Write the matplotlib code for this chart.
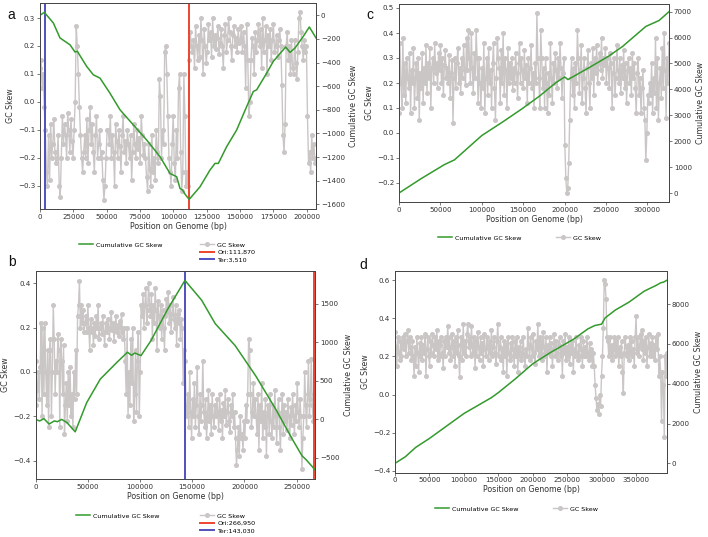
import numpy as np
import matplotlib
matplotlib.use("Agg")
import matplotlib.pyplot as plt

# ---------------- data ----------------
# Panel a
a_len = 207000
a_skew = [0.12, 0.15, 0.05, 0.1,
          -0.02, -0.1, -0.25, -0.3,
          -0.12, -0.28, -0.08, -0.2, -0.15, -0.06, -0.18, -0.22, -0.2, -0.12,
          -0.3, -0.34, -0.2,
          -0.05, -0.15, -0.08, -0.12, -0.2, -0.04, -0.1, -0.18, -0.06, -0.14, -0.2, -0.1,
          0.0, 0.27, 0.2, 0.1,
          -0.02, -0.12, -0.2, -0.25, -0.18, -0.12, -0.2, -0.06, -0.22, -0.1, -0.02,
          -0.15, -0.08, -0.18, -0.25, -0.12, -0.05, -0.2, -0.15, -0.1, -0.2,
          -0.18, -0.28, -0.35, -0.3, -0.2, -0.1,
          -0.1, -0.15, -0.05, -0.2, -0.12, -0.18, -0.3, -0.08, -0.14, -0.2, -0.1,
          -0.16, -0.25, -0.12, -0.05, -0.18, -0.14, -0.22, -0.1, -0.15, -0.2, -0.12,
          -0.28, -0.18, -0.08, -0.15, -0.2, -0.1, -0.17, -0.13, -0.22, -0.05, -0.12,
          -0.19, -0.15,
          -0.2, -0.27, -0.32, -0.15, -0.24, -0.3, -0.12, -0.25, -0.2, -0.28, -0.1, -0.18, -0.22,
          0.08, 0.02, -0.2, -0.1, -0.15,
          0.18, 0.2, 0.1, -0.05, -0.2,
          -0.25, -0.3, -0.15, -0.05, -0.22, -0.28, -0.1, -0.2, 0.05, 0.1, -0.18, -0.32,
          -0.25, 0.1, -0.05, -0.3, -0.25, -0.3,
          0.15, 0.25, 0.2, 0.18, 0.22, 0.12, 0.27, 0.2, 0.15, 0.24, 0.16, 0.3, 0.22, 0.1,
          0.26, 0.2, 0.14, 0.18, 0.28, 0.22, 0.25, 0.16, 0.3, 0.2, 0.24, 0.19, 0.23, 0.27,
          0.17, 0.21, 0.26, 0.2, 0.12, 0.24, 0.28, 0.18, 0.22, 0.3, 0.25, 0.2, 0.15, 0.24,
          0.27, 0.2, 0.23, 0.18, 0.26, 0.21,
          0.22, 0.27, 0.18, 0.25, 0.2, 0.05, 0.28, 0.15, -0.05, 0.0, 0.15, 0.23, 0.2, 0.1,
          0.25, 0.18, 0.22, 0.28, 0.2,
          0.26, 0.12, 0.3, 0.18, 0.22, 0.27, 0.1, 0.24, 0.2, 0.26, 0.15, 0.22, 0.28, 0.18,
          0.2, 0.24, 0.16, 0.22, 0.26, 0.2,
          0.06, -0.12, -0.18, -0.08, 0.2, 0.25, 0.15, 0.2, 0.1, 0.22, 0.12,
          0.1, 0.22, 0.14, 0.08, 0.18, 0.3, 0.32, 0.25, 0.2, 0.15, 0.22, 0.18, 0.2,
          -0.05, -0.22, -0.18, -0.25, -0.12, -0.2, -0.15, -0.22, -0.2]
a_cum_x = [0, 3250, 10000, 15000, 22500, 26250, 28000, 35000, 40000, 45000,
           52500, 60000, 70000, 80000, 90000, 97500, 102500, 105000, 107000,
           108750, 111870, 120000, 127500, 131250, 133750, 140000, 147500,
           155000, 160000, 162500, 170000, 175000, 182500, 184250, 187500,
           191250, 197500, 202000, 207000]
a_cum_y = [0, 25, -65, -192, -250, -311, -305, -433, -504, -532,
           -660, -800, -928, -1056, -1197, -1339, -1367, -1466, -1480,
           -1514, -1559, -1452, -1310, -1254, -1254, -1112, -971,
           -773, -645, -631, -490, -390, -291, -269, -314,
           -277, -178, -99, -192]
a_ori, a_ter = 111870, 3510

# Panel b
b_len = 267500
b_skew = [0.05, -0.15, -0.08, 0.0, -0.12, 0.02,
          0.22, -0.2, 0.2, -0.1, 0.22, 0.0, -0.15, 0.1,
          -0.25, 0.1, 0.15, -0.2, 0.0, 0.3, 0.15, -0.1, 0.05,
          0.0, 0.17, 0.1, -0.25, 0.15, 0.05, -0.1, 0.12,
          -0.28, -0.15, -0.05, -0.22, 0.0, -0.15, 0.02, -0.2, -0.1, -0.25, 0.0, -0.12,
          0.1, -0.1, 0.25, 0.3, 0.41, 0.2, 0.3, 0.22, 0.28, 0.18,
          0.22, 0.25, 0.18, 0.3, 0.2, 0.1, 0.24, 0.18, 0.2, 0.12, 0.22, 0.16, 0.25,
          0.2, 0.3, 0.15, 0.2, 0.22, 0.17, 0.25, 0.18, 0.12, 0.22, 0.2, 0.18, 0.24,
          0.15, 0.2, 0.27, 0.19, 0.22, 0.14, 0.2, 0.25, 0.18, 0.21, 0.16, 0.23, 0.2,
          0.26, 0.18, 0.15, 0.2,
          0.05, -0.1, 0.2, -0.2, 0.0, -0.15, 0.15, -0.05, 0.2, -0.22, -0.1, 0.1,
          -0.18, 0.05, 0.18, -0.2, 0.0,
          0.3, 0.25, 0.35, 0.2, 0.3, 0.38, 0.22, 0.28, 0.4, 0.3, 0.25, 0.35, 0.15,
          0.3, 0.22, 0.38, 0.28, 0.1, 0.32, 0.25, 0.2, 0.3, 0.15, 0.28, 0.2, 0.1,
          0.25, 0.33, 0.27, 0.36, 0.22, 0.3, 0.18, 0.26, 0.34, 0.24, 0.2, 0.3, 0.12,
          0.26, 0.22, 0.28, 0.15, 0.24, 0.2,
          -0.05, 0.1, 0.05,
          -0.15, -0.2, -0.1, -0.25, 0.0, -0.18, -0.3, -0.12, -0.2, -0.05, -0.25,
          -0.15, 0.02, -0.2, -0.28, -0.1, -0.22, -0.15, 0.05, -0.18, -0.25, -0.12,
          -0.3, -0.2, -0.08, -0.22, -0.15, -0.28, -0.1, -0.2, -0.25, -0.15, -0.2,
          -0.12, -0.18, -0.26, -0.1, -0.22, -0.17, -0.3, -0.14, -0.2, -0.08, -0.24,
          -0.18, -0.12, -0.22, -0.27, -0.15, -0.2, -0.1, -0.25, -0.18,
          -0.3, -0.42, -0.35, -0.25, -0.38, -0.2, -0.3, -0.28, -0.35, -0.22, -0.3,
          -0.15, -0.22, -0.1, 0.15, 0.1, -0.1, -0.25, -0.18, -0.05, -0.2, -0.12,
          -0.2, -0.28, -0.1, -0.35, -0.15, -0.22, -0.05, -0.3, -0.18, -0.25, -0.12,
          -0.38, -0.2, -0.15, -0.28, -0.1, -0.22, -0.3, -0.15, -0.25, -0.08, -0.2,
          -0.32, -0.18, -0.12, -0.25, -0.35, -0.2, -0.1, -0.28, -0.15, -0.22, -0.18,
          -0.26, -0.12, -0.2, -0.3, -0.16, -0.24, -0.1, -0.2, -0.28, -0.15, -0.22,
          -0.05, -0.18, -0.25, -0.12, -0.2, -0.44, -0.3, -0.2, 0.0, -0.15, -0.25,
          -0.1, 0.05, -0.2, -0.12, 0.06, -0.15, -0.22, -0.1, 0.05]
b_cum_x = [0, 4000, 8000, 13000, 18000, 21000, 25000, 30000, 38000, 49000,
           62000, 78000, 88000, 92000, 95000, 101000, 110600, 126800, 143030,
           159000, 172000, 191000, 210700, 230000, 246000, 255000, 259000, 267500]
b_cum_y = [0, -20, 10, -60, -20, -30, 0, -40, -161, 217,
           522, 740, 870, 830, 860, 826, 1022, 1435, 1800,
           1544, 1240, 957, 565, 130, -261, -470, -522, -652]
b_ori, b_ter = 266950, 143030

# Panel c
c_len = 326000
c_skew = [0.08, 0.36, 0.2, 0.1, 0.38, 0.15, 0.28, 0.12, 0.3, 0.22,
          0.18, 0.32, 0.08, 0.25, 0.2, 0.34, 0.1, 0.22, 0.28, 0.14,
          0.3, 0.05, 0.24, 0.18, 0.32, 0.12, 0.26, 0.2, 0.35, 0.16,
          0.28, 0.22, 0.34, 0.1, 0.26, 0.3, 0.2, 0.36, 0.24, 0.28,
          0.18, 0.32, 0.25, 0.35, 0.2, 0.3, 0.15, 0.27, 0.33, 0.22,
          0.26, 0.2, 0.31, 0.14, 0.24, 0.29, 0.04, 0.22, 0.3, 0.18,
          0.28, 0.34, 0.2, 0.26, 0.16, 0.3, 0.22, 0.35, 0.25, 0.19,
          0.38, 0.25, 0.41, 0.3, 0.2, 0.4, 0.26, 0.16, 0.32, 0.22,
          0.41, 0.3, 0.12, 0.3, 0.2, 0.1, 0.26, 0.18, 0.36, 0.08,
          0.22, 0.3, 0.15, 0.34, 0.2, 0.25, 0.1, 0.28, 0.36, 0.18,
          0.05, 0.22, 0.38, 0.3, 0.26, 0.12, 0.33, 0.2, 0.4, 0.15,
          0.3, 0.25, 0.1, 0.34, 0.2, 0.28, 0.22, 0.3, 0.17, 0.26,
          0.2, 0.32, 0.24, 0.14, 0.28, 0.36, 0.2, 0.3, 0.25, 0.18,
          0.33, 0.22, 0.27, 0.12, 0.3, 0.2, 0.26, 0.35, 0.18, 0.24,
          0.1, 0.28, 0.2, 0.48, 0.3, 0.22, 0.1, 0.41, 0.3, 0.18,
          0.26, 0.1, 0.3, 0.2, 0.08, 0.24, 0.15, 0.36, 0.22, 0.12,
          0.28, 0.2, 0.32, 0.25, 0.18, 0.3, 0.22, 0.36, 0.26, 0.14,
          0.24, 0.3,
          -0.05, -0.18, -0.24, -0.22, -0.12, 0.05,
          0.22, 0.3, 0.15, 0.26, 0.1, 0.28, 0.2, 0.41, 0.3, 0.16,
          0.25, 0.35, 0.12, 0.22, 0.3, 0.18, 0.08, 0.26, 0.33, 0.2,
          0.1, 0.28, 0.22, 0.34, 0.15, 0.3, 0.24, 0.35, 0.2, 0.28,
          0.32, 0.25, 0.38, 0.22, 0.3, 0.27, 0.34, 0.2, 0.3, 0.26,
          0.18, 0.32, 0.28, 0.1, 0.24, 0.3, 0.15, 0.22, 0.35, 0.25,
          0.2, 0.3, 0.16, 0.27, 0.22, 0.33, 0.18, 0.28, 0.12, 0.25,
          0.3, 0.2, 0.26, 0.15, 0.32, 0.22, 0.28, 0.18, 0.08, 0.24,
          0.3, 0.15, 0.22, 0.08, 0.18, 0.25, 0.1,
          0.05, -0.11, 0.0, 0.15,
          0.12, 0.2, 0.15, 0.28, 0.08, 0.22, 0.16, 0.38, 0.1, 0.3, 0.05,
          0.2, 0.26, 0.14, 0.34, 0.18, 0.4, 0.25, 0.06, 0.3, 0.2, 0.36]
c_cum_x = [0, 27000, 55000, 67000, 100000, 125000, 148000, 170000, 189000,
           200000, 204000, 229000, 253000, 270000, 298000, 314000, 326000]
c_cum_y = [0, 560, 1100, 1280, 2220, 2740, 3240, 3750, 4250,
           4480, 4380, 4830, 5280, 5660, 6430, 6660, 7000]

# Panel d
d_len = 395000
d_skew = [0.33, 0.25, 0.15, 0.3, 0.22, 0.18, 0.28, 0.2, 0.26, 0.3,
          0.24, 0.32, 0.2, 0.28, 0.34, 0.22, 0.3, 0.25, 0.18, 0.28,
          0.2, 0.1, 0.25, 0.15, 0.3, 0.22, 0.12, 0.27, 0.2, 0.3,
          0.18, 0.26, 0.22, 0.32, 0.1, 0.24, 0.3, 0.2, 0.15, 0.28,
          0.22, 0.32, 0.26, 0.2, 0.3, 0.24, 0.34, 0.18, 0.28, 0.2,
          0.26, 0.3, 0.22, 0.14, 0.28, 0.2, 0.3, 0.25, 0.36, 0.22,
          0.3, 0.18, 0.25, 0.32, 0.2, 0.28, 0.15, 0.3, 0.22, 0.34,
          0.2, 0.09, 0.26, 0.3, 0.18, 0.37, 0.22, 0.28, 0.2, 0.32,
          0.37, 0.25, 0.3, 0.2, 0.36, 0.26, 0.22, 0.3, 0.14, 0.28,
          0.2, 0.33, 0.25, 0.18, 0.3, 0.22, 0.27, 0.15, 0.32, 0.24,
          0.2, 0.3, 0.26, 0.18, 0.28, 0.22, 0.34, 0.2, 0.25, 0.3,
          0.22, 0.16, 0.28, 0.37, 0.2, 0.25, 0.3, 0.18, 0.24, 0.12,
          0.28, 0.2, 0.26, 0.1, 0.3, 0.22, 0.18, 0.27, 0.2, 0.3,
          0.24, 0.15, 0.28, 0.2, 0.3, 0.12, 0.25, 0.2, 0.28, 0.18,
          0.22, 0.3, 0.2, 0.15, 0.24, 0.2, 0.35, 0.26, 0.18, 0.3,
          0.25, 0.2, 0.32, 0.22, 0.16, 0.28, 0.24, 0.37, 0.2, 0.3,
          0.22, 0.28, 0.18, 0.33, 0.25, 0.2, 0.3, 0.12, 0.26, 0.22,
          0.3, 0.2, 0.27, 0.15, 0.24, 0.32, 0.2, 0.28, 0.22, 0.18,
          0.26, 0.3, 0.2, 0.24, 0.1, 0.28, 0.22, 0.32, 0.18, 0.25,
          0.2, 0.3, 0.16, 0.26, 0.22, 0.28, 0.12, 0.24, 0.2, 0.3,
          0.22, 0.18, 0.26, 0.2, 0.3, 0.24, 0.15, 0.28, 0.2,
          0.25, 0.2, 0.3, 0.22, 0.18, 0.27, 0.2, 0.24, 0.15, 0.22,
          0.15, 0.05, -0.02, -0.08, -0.05, -0.1, 0.0, -0.06, 0.1,
          0.2, 0.35, 0.6, 0.58, 0.5, 0.3,
          0.28, 0.2, 0.3, 0.22, 0.26, 0.18, 0.24, 0.3, 0.2, 0.28,
          0.22, 0.3, 0.15, 0.25, 0.2, 0.28, 0.12, 0.01, 0.22, 0.3,
          0.25, 0.2, 0.26, 0.18, 0.3, 0.22, 0.28, 0.2, 0.24, 0.15,
          0.3, 0.41, 0.22, 0.3, 0.2, 0.26, 0.32, 0.24, 0.34, 0.18,
          0.28, 0.22, 0.3, 0.15, 0.25, 0.32, 0.2, 0.27, 0.22, 0.3,
          0.2, 0.26, 0.18, 0.3, 0.24, 0.32, 0.1, 0.2, 0.12, -0.14,
          0.12, 0.05, -0.22, 0.2, 0.1, 0.22]
d_cum_x = [0, 15000, 30000, 50000, 100000, 140000, 150000, 175000, 200000,
           225000, 240000, 260000, 280000, 290000, 300000, 305000, 320000,
           340000, 362000, 380000, 386000, 390000, 395000]
d_cum_y = [0, 330, 800, 1250, 2500, 3300, 3550, 4250, 5000,
           5550, 5850, 6250, 6750, 6920, 6990, 7300, 7700,
           8100, 8650, 8950, 9070, 9100, 9200]

# ---------------- style ----------------
GREEN = "#339a2c"
GRAY = "#cbc6c6"
RED = "#ee4430"
BLUE = "#5050c0"
W, H = 708, 537
FS = 5.7
TFS = 5.1
LFS = 4.6

plt.rcParams.update({
    "font.family": ["DejaVu Sans"],
    "axes.edgecolor": "#444444",
    "axes.linewidth": 0.6,
    "xtick.major.size": 2.0,
    "ytick.major.size": 2.0,
    "xtick.major.width": 0.5,
    "ytick.major.width": 0.5,
    "xtick.major.pad": 1.5,
    "ytick.major.pad": 1.5,
    "xtick.color": "#444444",
    "ytick.color": "#444444",
    "xtick.labelcolor": "#333333",
    "ytick.labelcolor": "#333333",
})

fig = plt.figure(figsize=(W / 100, H / 100), dpi=100)


def rect(l, t, r, b):
    return [l / W, 1 - b / H, (r - l) / W, (b - t) / H]


def panel(box, length, skew, cx, cy, ylim_l, ylim_r, leg1, leg2, ori=None, ter=None):
    ax = fig.add_axes(rect(*box))
    xs = np.linspace(0, length, len(skew))
    h_gc, = ax.plot(xs, skew, color=GRAY, lw=1.0, marker="o", ms=2.6,
                    mec=GRAY, mfc=GRAY, label="GC Skew")
    handles = [h_gc]
    if ori is not None:
        handles.append(ax.axvline(ori, color=RED, lw=1.4, label=f"Ori:{ori:,}"))
        handles.append(ax.axvline(ter, color=BLUE, lw=1.4, label=f"Ter:{ter:,}"))
    ax.set_xlim(0, length)
    ax.set_ylim(*ylim_l)
    ax.set_xlabel("Position on Genome (bp)", fontsize=FS, color="#333333", labelpad=1.5)
    ax.set_ylabel("GC Skew", fontsize=FS, color="#333333", labelpad=2)
    ax.tick_params(labelsize=TFS)
    ax2 = ax.twinx()
    h_c, = ax2.plot(cx, cy, color=GREEN, lw=1.1, label="Cumulative GC Skew")
    ax2.set_ylim(*ylim_r)
    ax2.set_ylabel("Cumulative GC Skew", fontsize=FS, color="#333333", labelpad=3)
    ax2.tick_params(labelsize=TFS)
    for s in ax2.spines.values():
        s.set_color("#444444")
        s.set_linewidth(0.6)
    common = dict(frameon=False, fontsize=LFS, loc="upper left", borderpad=0,
                  handlelength=2.2, handletextpad=0.5, labelspacing=0.3,
                  bbox_transform=fig.transFigure)
    fig.legend(handles=[h_c], bbox_to_anchor=(leg1[0] / W, 1 - leg1[1] / H), **common)
    fig.legend(handles=handles, bbox_to_anchor=(leg2[0] / W, 1 - leg2[1] / H), **common)
    return ax


panel((40, 3, 316, 209), a_len, a_skew, a_cum_x, a_cum_y,
      (-0.384, 0.354), (-1640, 104), (76, 239), (197, 239), a_ori, a_ter)
panel((35.5, 271, 315, 479), b_len, b_skew, b_cum_x, b_cum_y,
      (-0.483, 0.455), (-772, 1922), (73, 510), (197, 510), b_ori, b_ter)
panel((399, 4, 669, 202), c_len, c_skew, c_cum_x, c_cum_y,
      (-0.276, 0.516), (-347, 7297), (435, 232), (553, 232))
panel((395, 271, 667, 472.5), d_len, d_skew, d_cum_x, d_cum_y,
      (-0.408, 0.648), (-460, 9660), (432, 503), (550, 503))

for lab, x, y in [("a", 11, 15), ("b", 12, 262), ("c", 370, 15), ("d", 363, 265)]:
    fig.text(x / W, 1 - y / H, lab, fontsize=10, family=["Liberation Sans"],
             ha="center", va="center", color="#111111")

fig.savefig("out.png", dpi=100)
